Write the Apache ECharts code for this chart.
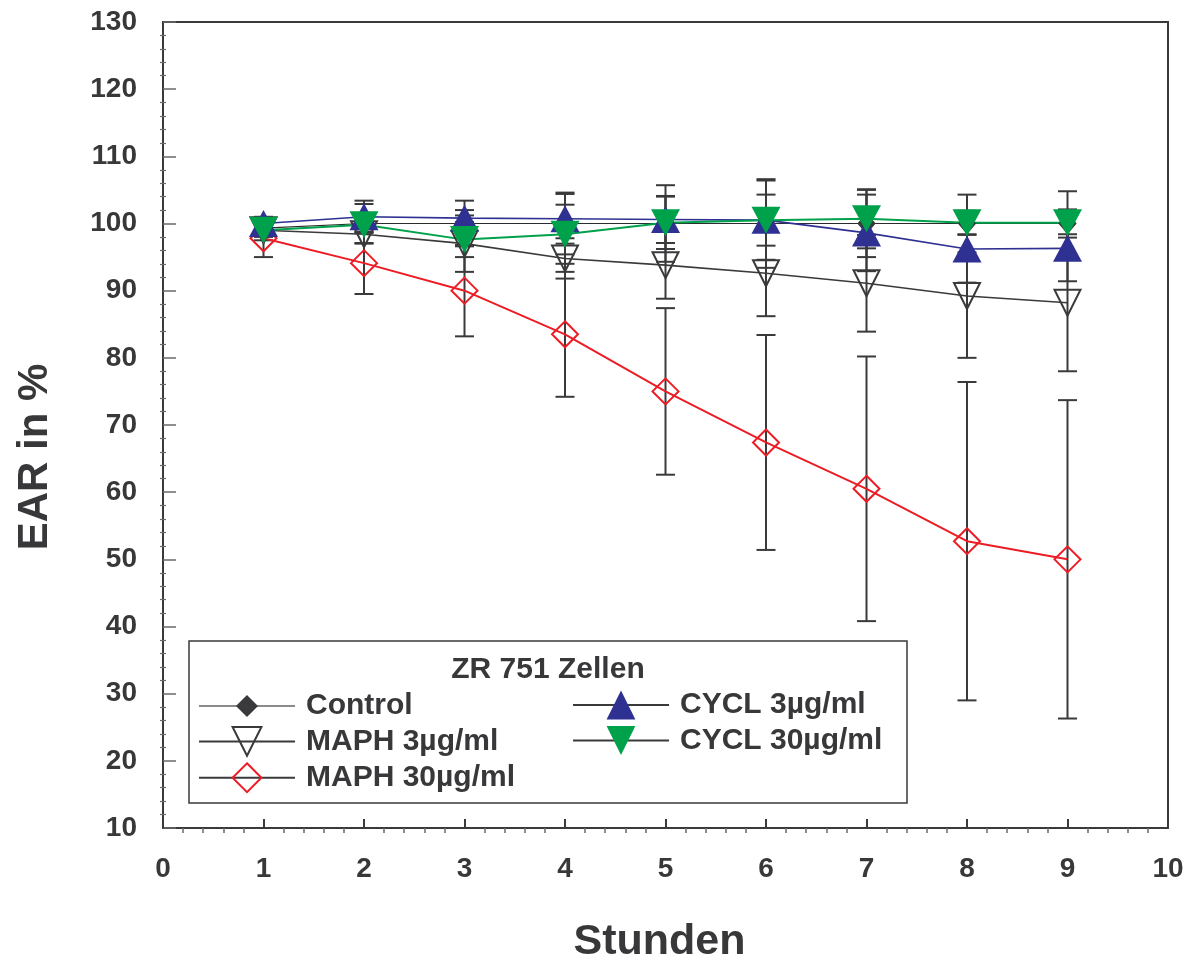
<!DOCTYPE html>
<html>
<head>
<meta charset="utf-8">
<script src="https://cdn.jsdelivr.net/npm/echarts@6/dist/echarts.min.js"></script>
<style>html,body{margin:0;padding:0;background:#fff}#c{width:1194px;height:961px}</style>
</head>
<body>
<div id="c"></div>
<script>
// ---- data ----
const hours = [1, 2, 3, 4, 5, 6, 7, 8, 9];
const xTicks = [0, 1, 2, 3, 4, 5, 6, 7, 8, 9, 10];
const yTicks = [10, 20, 30, 40, 50, 60, 70, 80, 90, 100, 110, 120, 130];

const control    = [99.3, 100.0, 100.0, 100.0, 100.0, 100.0, 100.0, 100.0, 100.0];
const controlErr = [1.0, 2.9, 3.4, 4.6, 5.7, 6.6, 5.0, 4.3, 2.1];

const maph3      = [99.0, 98.4, 97.0, 94.8, 93.8, 92.6, 91.1, 89.2, 88.2];
const maph3Err   = [1.5, 1.4, 4.2, 3.0, 5.0, 6.4, 7.2, 9.2, 10.2];

const maph30     = [97.8, 94.1, 90.0, 83.5, 75.0, 67.4, 60.5, 52.7, 50.0];
const maph30Err  = [2.8, 4.6, 6.8, 9.3, 12.4, 16.0, 19.7, 23.7, 23.7];

const cycl3      = [100.0, 101.0, 100.8, 100.7, 100.6, 100.5, 98.6, 96.2, 96.3];
const cycl3Err   = [1.0, 2.4, 1.2, 3.7, 3.5, 3.8, 5.7, 5.0, 4.9];

const cycl30     = [99.0, 99.8, 97.6, 98.4, 100.1, 100.5, 100.7, 100.1, 100.1];
const cycl30Err  = [1.0, 1.0, 2.6, 4.4, 3.9, 5.9, 4.4, 1.8, 4.7];

const legendTitle = 'ZR 751 Zellen';
const xName = 'Stunden';
const yName = 'EAR in %';

// ---- styles ----
const DARK = '#3a3a3c';
const TXT = '#38383a';
const BLUE = '#2e3192';
const GREEN = '#00a14b';
const RED = '#ed1c24';
const SANS = "'Liberation Sans', Arial, Helvetica, sans-serif";

function pts(vals) { return hours.map((h, i) => [h, vals[i]]); }
function errData(vals, errs) { return hours.map((h, i) => [h, vals[i] - errs[i], vals[i] + errs[i]]); }

function errRender(params, api) {
  const x = api.value(0), lo = api.value(1), hi = api.value(2);
  const pHi = api.coord([x, hi]);
  const pLo = api.coord([x, lo]);
  const w = 9.5;
  const st = { stroke: DARK, lineWidth: 2 };
  return {
    type: 'group',
    children: [
      { type: 'line', shape: { x1: pHi[0], y1: pHi[1], x2: pLo[0], y2: pLo[1] }, style: st },
      { type: 'line', shape: { x1: pHi[0] - w, y1: pHi[1], x2: pHi[0] + w, y2: pHi[1] }, style: st },
      { type: 'line', shape: { x1: pLo[0] - w, y1: pLo[1], x2: pLo[0] + w, y2: pLo[1] }, style: st }
    ]
  };
}
function errSeries(vals, errs) {
  return { type: 'custom', renderItem: errRender, data: errData(vals, errs), silent: true,
           encode: { x: 0, y: [1, 2] }, clip: true };
}

const chart = echarts.init(document.getElementById('c'), null, { renderer: 'canvas' });

const legendText = { fontFamily: SANS, fontWeight: 'bold', fontSize: 30, color: TXT, padding: [0, 0, 0, 6] };

const option = {
  backgroundColor: '#fff',
  animation: false,
  grid: { left: 163, right: 26, top: 22, bottom: 133, show: true, borderColor: DARK, borderWidth: 2,
          backgroundColor: 'transparent', outerBoundsMode: 'none' },
  xAxis: [
    { type: 'value', min: xTicks[0], max: xTicks[xTicks.length - 1], interval: 1,
      axisLine: { lineStyle: { color: DARK, width: 2 } },
      axisTick: { inside: true, length: 9, lineStyle: { color: DARK, width: 2 } },
      minorTick: { show: false },
      splitLine: { show: false },
      axisLabel: { margin: 27, fontFamily: SANS, fontWeight: 'bold', fontSize: 28, color: TXT },
      name: xName, nameLocation: 'middle', nameGap: 93,
      nameTextStyle: { fontFamily: SANS, fontWeight: 'bold', fontSize: 43, color: TXT, padding: [0, 12, 0, 0] } },
    { type: 'value', min: xTicks[0], max: xTicks[xTicks.length - 1], interval: 1, position: 'bottom',
      axisLine: { show: false },
      axisTick: { show: false },
      minorTick: { show: true, splitNumber: 5, length: 5, lineStyle: { color: '#6a6a6c', width: 1.5 } },
      splitLine: { show: false }, axisLabel: { show: false } }
  ],
  yAxis: [
    { type: 'value', min: yTicks[0], max: yTicks[yTicks.length - 1], interval: 10,
      axisLine: { show: true, lineStyle: { color: DARK, width: 2 } },
      axisTick: { show: true, inside: true, length: 13, lineStyle: { color: '#6a6a6c', width: 1.5 } },
      minorTick: { show: true, splitNumber: 5, length: 3, lineStyle: { color: '#6a6a6c', width: 1.2 } },
      splitLine: { show: false },
      axisLabel: { margin: 26, fontFamily: SANS, fontWeight: 'bold', fontSize: 28, color: TXT } },
    { type: 'value', min: yTicks[0], max: yTicks[yTicks.length - 1], interval: 10, position: 'left',
      axisLine: { show: false }, axisTick: { show: false },
      minorTick: { show: true, splitNumber: 5, length: 3, lineStyle: { color: '#6a6a6c', width: 1.2 } },
      splitLine: { show: false }, axisLabel: { show: false } }
  ],
  title: {
    text: legendTitle, left: 543, top: 650, textAlign: 'center',
    textStyle: { fontFamily: SANS, fontWeight: 'bold', fontSize: 30, color: TXT }
  },
  legend: [
    { orient: 'vertical', left: 198, top: 691, padding: 0, itemWidth: 96, itemHeight: 24, itemGap: 0,
      selectedMode: false, textStyle: legendText,
      data: [{ name: 'Control', lineStyle: { color: '#8a8a8c', width: 2 } }] },
    { orient: 'vertical', left: 198, top: 726, padding: 0, itemWidth: 96, itemHeight: 36, itemGap: 5.5,
      selectedMode: false, textStyle: legendText,
      data: [{ name: 'MAPH 3µg/ml', lineStyle: { color: DARK, width: 2 } },
             { name: 'MAPH 30µg/ml', lineStyle: { color: DARK, width: 2 } }] },
    { orient: 'vertical', left: 572, top: 690, padding: 0, itemWidth: 96, itemHeight: 36, itemGap: 5.5,
      selectedMode: false, textStyle: legendText,
      data: [{ name: 'CYCL 3µg/ml', lineStyle: { color: DARK, width: 2 } },
             { name: 'CYCL 30µg/ml', lineStyle: { color: DARK, width: 2 } }] }
  ],
  graphic: [
    { type: 'rect', shape: { x: 189, y: 641, width: 718, height: 162 }, z: 0,
      style: { fill: '#fff', stroke: DARK, lineWidth: 1.5 } },
    { type: 'text', x: 35, y: 457, rotation: Math.PI / 2, z: 10,
      style: { text: yName, fontFamily: SANS, fontWeight: 'bold', fontSize: 42, fill: TXT,
               align: 'center', verticalAlign: 'middle' } }
  ],
  series: [
    errSeries(control, controlErr),
    { name: 'Control', type: 'line', data: pts(control), symbol: 'diamond', symbolSize: [17, 20],
      lineStyle: { color: '#2c2c2e', width: 1.2 }, itemStyle: { color: DARK, borderColor: DARK, borderWidth: 1 } },
    errSeries(maph3, maph3Err),
    { name: 'MAPH 3µg/ml', type: 'line', data: pts(maph3), symbol: 'triangle', symbolRotate: 180,
      symbolSize: [26, 26], lineStyle: { color: DARK, width: 1.6 },
      itemStyle: { color: 'rgba(255,255,255,0)', borderColor: DARK, borderWidth: 2 } },
    errSeries(maph30, maph30Err),
    { name: 'MAPH 30µg/ml', type: 'line', data: pts(maph30), symbol: 'diamond', symbolSize: [26, 26],
      lineStyle: { color: RED, width: 2 },
      itemStyle: { color: 'rgba(255,255,255,0)', borderColor: RED, borderWidth: 2 } },
    errSeries(cycl3, cycl3Err),
    { name: 'CYCL 3µg/ml', type: 'line', data: pts(cycl3), symbol: 'triangle', symbolSize: [29, 27],
      lineStyle: { color: BLUE, width: 1.6 }, itemStyle: { color: BLUE, borderColor: BLUE, borderWidth: 0 } },
    errSeries(cycl30, cycl30Err),
    { name: 'CYCL 30µg/ml', type: 'line', data: pts(cycl30), symbol: 'triangle', symbolRotate: 180,
      symbolSize: [29, 27], lineStyle: { color: GREEN, width: 2 },
      itemStyle: { color: GREEN, borderColor: GREEN, borderWidth: 0 } }
  ]
};
chart.setOption(option);
</script>
</body>
</html>
